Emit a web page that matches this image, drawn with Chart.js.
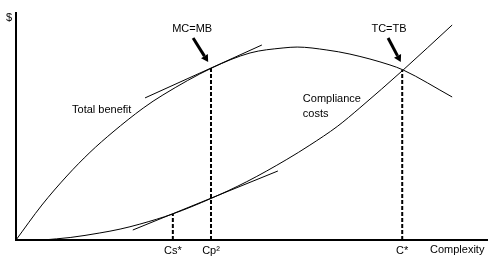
<!DOCTYPE html>
<html>
<head>
<meta charset="utf-8">
<script src="https://cdn.jsdelivr.net/npm/chart.js@4"></script>
<style>
  html, body { margin: 0; padding: 0; background: #fff; }
  canvas { display: block; }
</style>
</head>
<body>
<canvas id="chart" width="493" height="265"></canvas>
<script>
// Curves, x = complexity, y = $ (both on a 0-100 scale)
const benefitX = [0, 5.5, 10.8, 15.7, 20.6, 27.0, 31.2, 41.6, 49.7, 56.7, 59.7, 66.0, 70.9, 79.4, 82.2, 92.6];
const benefitY = [0, 15.4, 28.2, 38.6, 47.6, 58.1, 63.9, 75.8, 82.4, 84.6, 85.0, 83.7, 81.9, 77.1, 74.9, 63.0];

const costX = [5.7, 11.5, 17.8, 22.1, 26.3, 33.3, 41.4, 49.0, 57.5, 62.4, 68.2, 73.0, 82.2, 92.6];
const costY = [0, 1.1, 3.1, 4.8, 7.0, 11.5, 18.3, 25.7, 35.5, 41.8, 50.0, 58.2, 74.9, 94.7];

// tangent lines (end points)
const tangentTopX = [27.4, 52.2];
const tangentTopY = [62.6, 85.9];
const tangentLowX = [24.8, 55.6];
const tangentLowY = [4.4, 30.4];

// dashed drop lines and their labels on the x axis
const markerX = [33.3, 41.4, 82.0];
const markerTop = [11.5, 75.8, 74.9];
const markerLabels = ['Cs*', 'Cp²', 'C*'];

// call-outs with arrows
const calloutText = ['MC=MB', 'TC=TB'];
const calloutX = [37.4, 79.2];
const calloutY = [93, 93];
const arrowFromX = [37.6, 79.0];
const arrowFromY = [89.0, 89.0];
const arrowToX = [40.8, 81.7];
const arrowToY = [78.4, 78.4];

// curve names
const curveText = ['Total benefit', 'Compliance', 'costs'];
const curveTextX = [11.9, 60.9, 60.9];
const curveTextY = [57.3, 62.1, 55.5];

const FONT = '11px "Liberation Sans", Arial, sans-serif';

function pts(xs, ys) {
  return xs.map((x, i) => ({ x, y: ys[i] }));
}

const curveStyle = { borderColor: '#000', borderWidth: 1, pointRadius: 0, showLine: true, fill: false };

const datasets = [
  { ...curveStyle, data: pts(benefitX, benefitY), cubicInterpolationMode: 'monotone' },
  { ...curveStyle, data: pts(costX, costY), cubicInterpolationMode: 'monotone' },
  { ...curveStyle, data: pts(tangentTopX, tangentTopY) },
  { ...curveStyle, data: pts(tangentLowX, tangentLowY) }
];
markerX.forEach((x, i) => {
  datasets.push({ ...curveStyle, borderWidth: 2, borderDash: [4, 2], data: [{ x, y: 0 }, { x, y: markerTop[i] }] });
});

const annotations = {
  id: 'annotations',
  afterDraw(chart) {
    const { ctx, scales: { x, y }, chartArea } = chart;
    ctx.save();
    ctx.fillStyle = '#000';
    ctx.strokeStyle = '#000';
    ctx.font = FONT;
    ctx.textBaseline = 'middle';

    // call-outs
    ctx.textAlign = 'center';
    calloutText.forEach((t, i) => {
      ctx.fillText(t, x.getPixelForValue(calloutX[i]), y.getPixelForValue(calloutY[i]));
      const x0 = x.getPixelForValue(arrowFromX[i]), y0 = y.getPixelForValue(arrowFromY[i]);
      const x1 = x.getPixelForValue(arrowToX[i]), y1 = y.getPixelForValue(arrowToY[i]);
      const ang = Math.atan2(y1 - y0, x1 - x0);
      const head = 7;
      ctx.lineWidth = 3;
      ctx.beginPath();
      ctx.moveTo(x0, y0);
      ctx.lineTo(x1 - Math.cos(ang) * head, y1 - Math.sin(ang) * head);
      ctx.stroke();
      ctx.beginPath();
      ctx.moveTo(x1, y1);
      ctx.lineTo(x1 - Math.cos(ang) * head + Math.sin(ang) * 4, y1 - Math.sin(ang) * head - Math.cos(ang) * 4);
      ctx.lineTo(x1 - Math.cos(ang) * head - Math.sin(ang) * 4, y1 - Math.sin(ang) * head + Math.cos(ang) * 4);
      ctx.closePath();
      ctx.fill();
    });

    // curve names
    ctx.textAlign = 'left';
    curveText.forEach((t, i) => {
      ctx.fillText(t, x.getPixelForValue(curveTextX[i]), y.getPixelForValue(curveTextY[i]));
    });

    // x axis marker labels
    ctx.textAlign = 'center';
    markerLabels.forEach((t, i) => {
      ctx.fillText(t, x.getPixelForValue(markerX[i]), chartArea.bottom + 11);
    });

    // axis titles
    ctx.textAlign = 'left';
    ctx.fillText('Complexity', chartArea.right - 57, chartArea.bottom + 10);
    ctx.textAlign = 'center';
    ctx.fillText('$', chartArea.left - 7, chartArea.top + 5);
    ctx.restore();
  }
};

const axis = {
  type: 'linear',
  min: 0,
  max: 100,
  grid: { display: false, drawTicks: false },
  ticks: { display: false },
  border: { display: true, color: '#000', width: 2 }
};

new Chart(document.getElementById('chart'), {
  type: 'scatter',
  data: { datasets },
  options: {
    responsive: false,
    animation: false,
    layout: { padding: { left: 16, top: 13, right: 6, bottom: 25 } },
    plugins: { legend: { display: false }, tooltip: { enabled: false } },
    scales: { x: { ...axis }, y: { ...axis } }
  },
  plugins: [annotations]
});
</script>
</body>
</html>
